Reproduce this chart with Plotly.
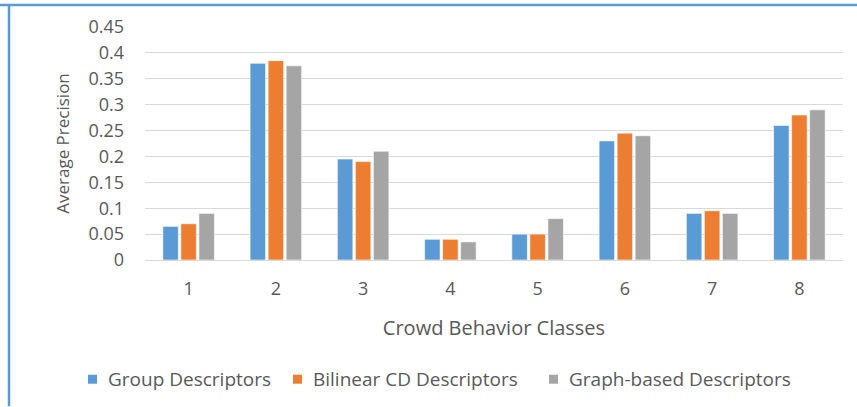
import plotly.graph_objects as go

# Per-class average precision for the three descriptor types
classes = ["1", "2", "3", "4", "5", "6", "7", "8"]
group_desc = [0.065, 0.38, 0.195, 0.04, 0.05, 0.23, 0.09, 0.26]
bilinear_cd = [0.07, 0.385, 0.19, 0.04, 0.05, 0.245, 0.095, 0.28]
graph_based = [0.09, 0.375, 0.21, 0.035, 0.08, 0.24, 0.09, 0.29]

series_names = ["Group Descriptors", "Bilinear CD Descriptors", "Graph-based Descriptors"]
series_colors = ["#5B9BD5", "#ED7D31", "#A5A5A5"]
y_ticks = [0, 0.05, 0.1, 0.15, 0.2, 0.25, 0.3, 0.35, 0.4, 0.45]
y_tick_text = ["0", "0.05", "0.1", "0.15", "0.2", "0.25", "0.3", "0.35", "0.4", "0.45"]

W, H = 857, 407
L, R, T, B = 145, 14, 27, 146.5
pw, ph = W - L - R, H - T - B

FONT = "Open Sans, sans-serif"
TXT = "#595959"

fig = go.Figure()
for name, vals, col in zip(series_names, [group_desc, bilinear_cd, graph_based], series_colors):
    fig.add_trace(go.Bar(
        x=classes, y=vals, name=name,
        marker=dict(color=col, line=dict(color="rgba(255,255,255,0.6)", width=1)),
    ))


def px_x(x):
    return (x - L) / pw


def px_y(y):
    return (H - B - y) / ph


# Frame lines along the top and left edges
shapes = [
    dict(type="line", xref="paper", yref="paper",
         x0=px_x(0), x1=px_x(W), y0=px_y(5), y1=px_y(5),
         line=dict(color="#5B9BD5", width=2.5)),
    dict(type="line", xref="paper", yref="paper",
         x0=px_x(9), x1=px_x(9), y0=px_y(4), y1=px_y(H),
         line=dict(color="#5B9BD5", width=2.5)),
]
annotations = []

# Single-row legend: colour swatch followed by the series name
legend_y = 380
swatch_left = [88, 293, 549]
for name, col, sx in zip(series_names, series_colors, swatch_left):
    shapes.append(dict(type="rect", xref="paper", yref="paper",
                       x0=px_x(sx), x1=px_x(sx + 9),
                       y0=px_y(legend_y - 4.5), y1=px_y(legend_y + 4.5),
                       fillcolor=col, line=dict(width=0)))
    annotations.append(dict(text=name, xref="paper", yref="paper",
                            x=px_x(sx + 18), y=px_y(legend_y),
                            xanchor="left", yanchor="middle", showarrow=False,
                            font=dict(size=19, color=TXT, family=FONT)))

fig.update_layout(
    width=W, height=H,
    margin=dict(l=L, r=R, t=T, b=B),
    paper_bgcolor="white", plot_bgcolor="white",
    barmode="group", bargap=0.38, bargroupgap=0.14,
    font=dict(family=FONT, color=TXT, size=15),
    showlegend=False,
    xaxis=dict(
        showgrid=False, showline=True, linecolor="#D9D9D9", linewidth=1,
        ticks="", ticklabelstandoff=12, tickfont=dict(size=18, color=TXT),
        title=dict(text="Crowd Behavior Classes", font=dict(size=20, color=TXT), standoff=22),
    ),
    yaxis=dict(
        range=[0, 0.45], tickvals=y_ticks, ticktext=y_tick_text,
        showgrid=True, gridcolor="#D9D9D9", gridwidth=1, zeroline=False,
        showline=False, ticks="", ticklabelstandoff=20,
        tickfont=dict(size=18, color=TXT),
        title=dict(text="Average Precision", font=dict(size=17, color=TXT), standoff=14),
    ),
    shapes=shapes,
    annotations=annotations,
)

fig.write_html("out.html")
